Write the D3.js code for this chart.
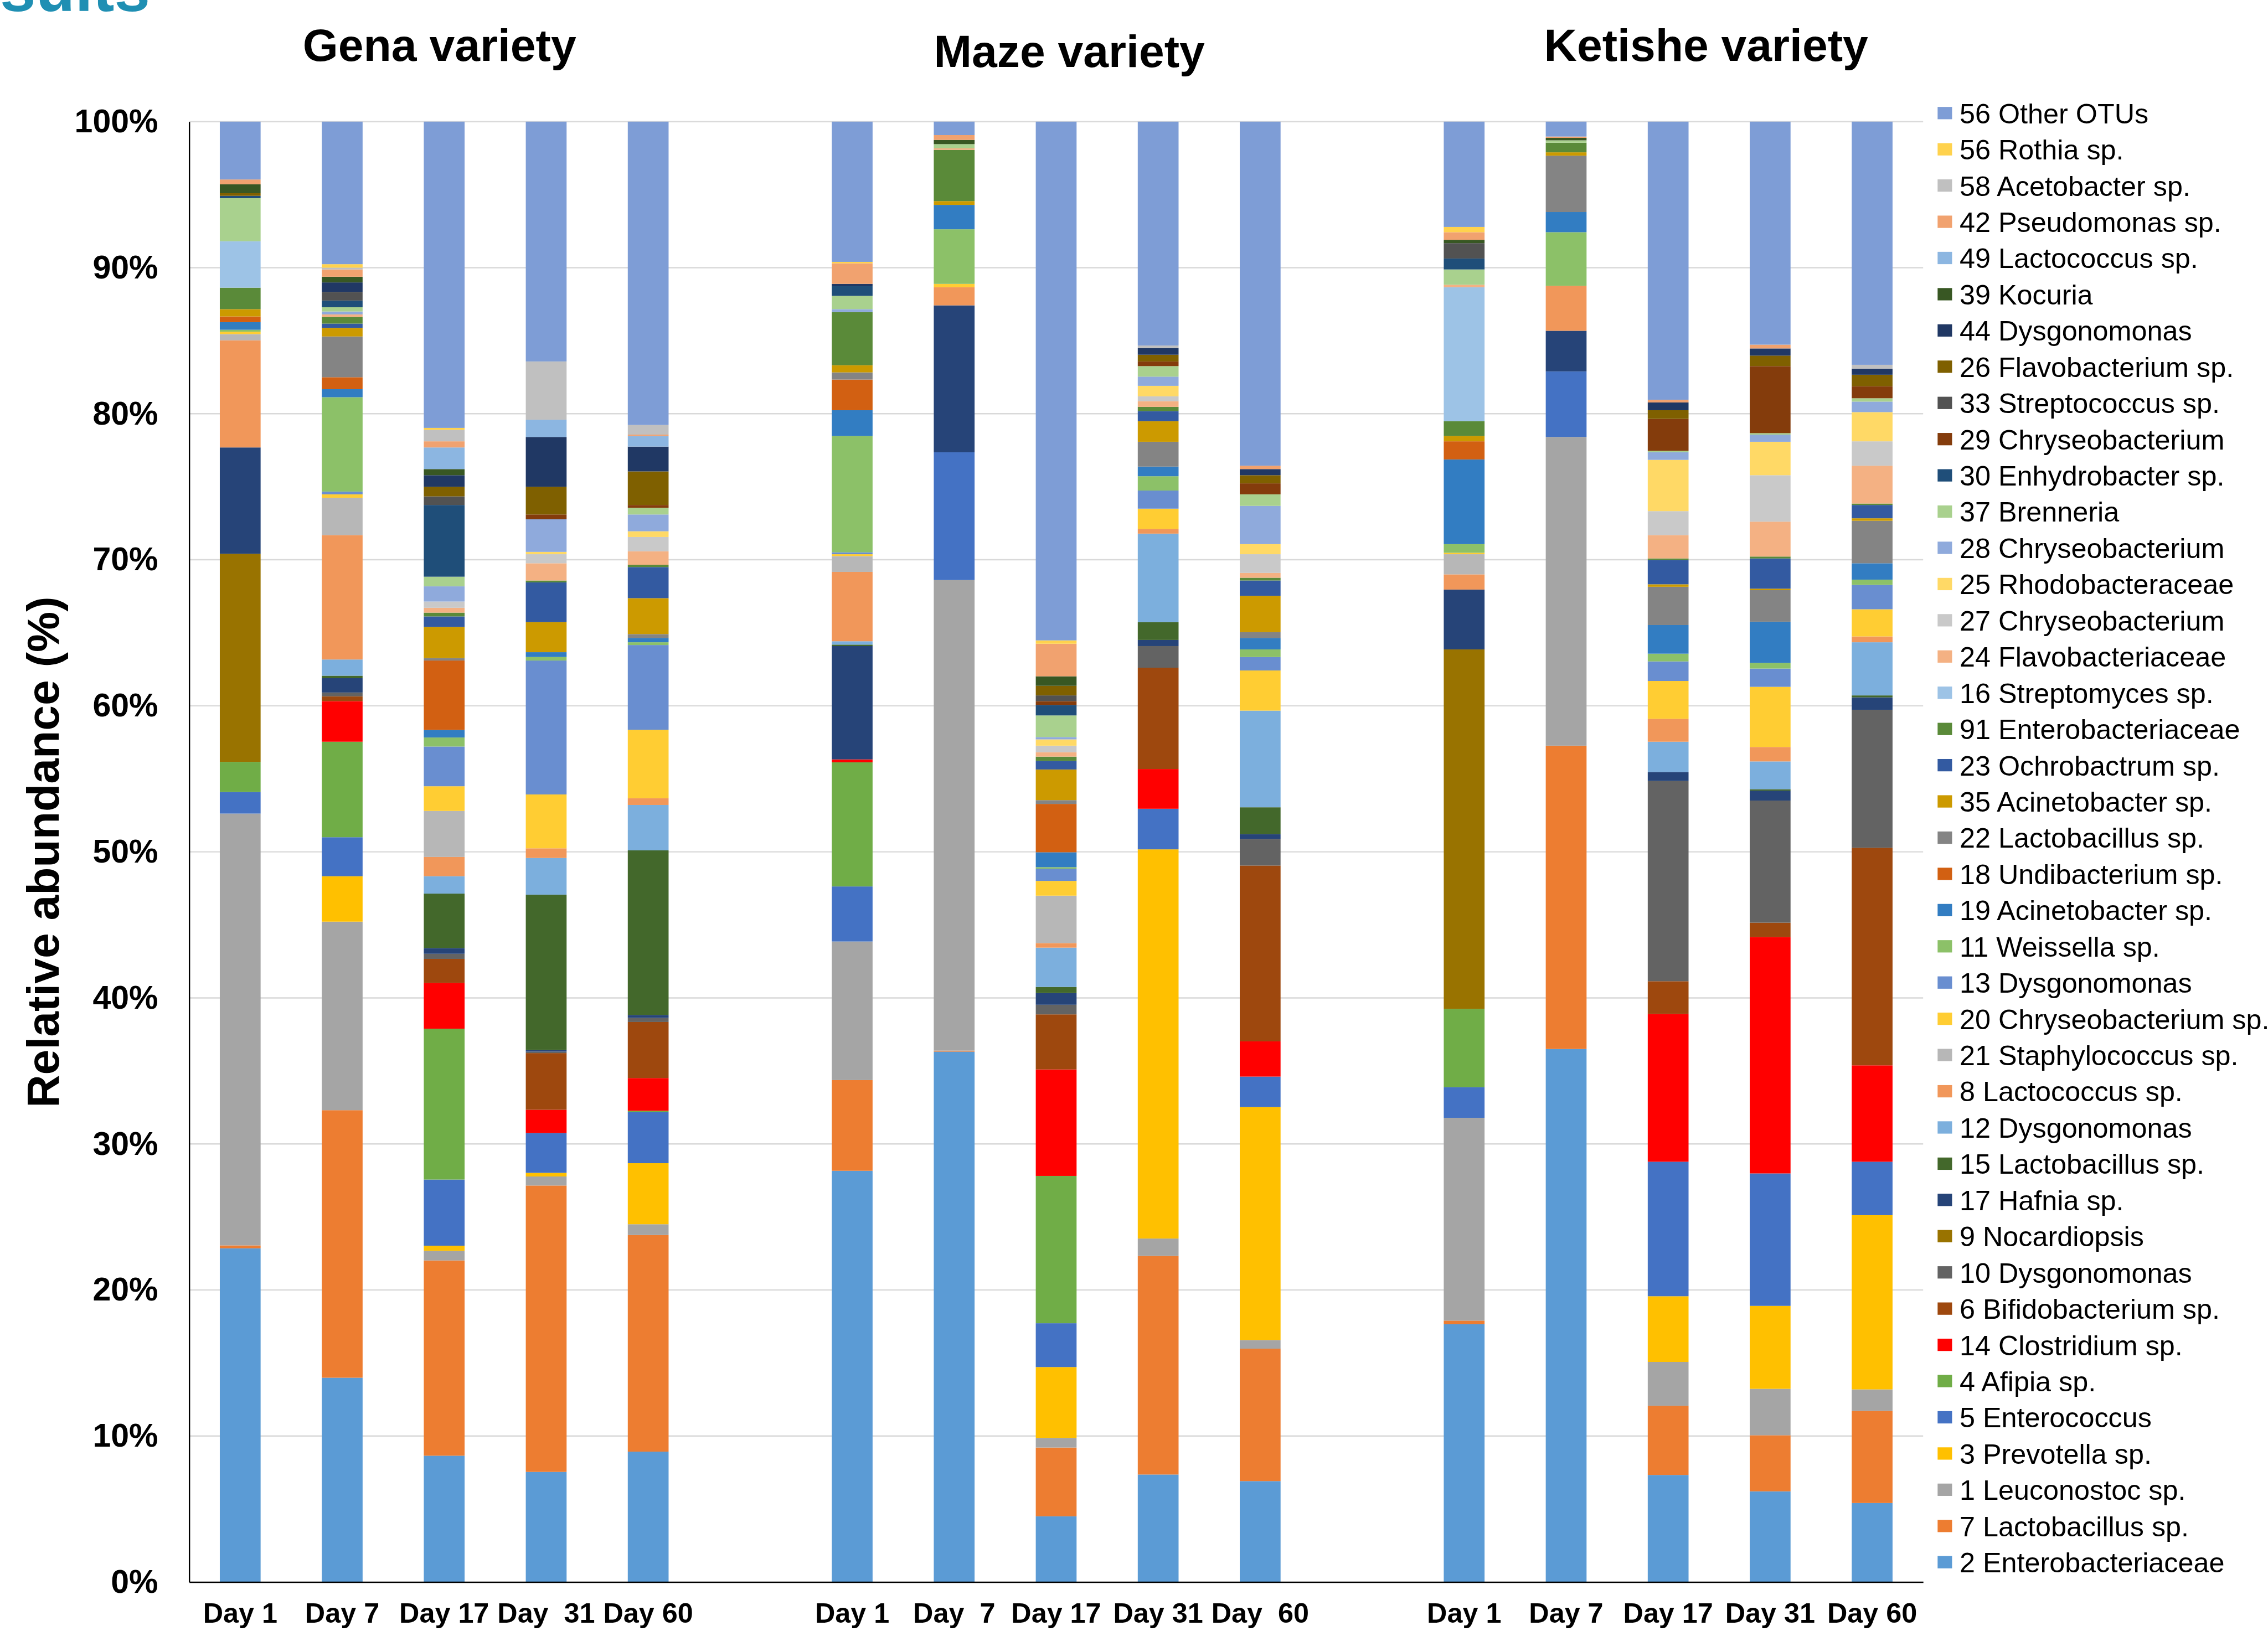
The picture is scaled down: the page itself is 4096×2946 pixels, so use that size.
<!DOCTYPE html>
<html><head><meta charset="utf-8">
<script src="https://cdn.jsdelivr.net/npm/d3@7"></script>
<style>html,body{margin:0;padding:0;background:#fff;overflow:hidden}</style>
</head><body>
<script>
// ---------- DATA ----------
const varieties = ["Gena variety", "Maze variety", "Ketishe variety"];
const dayLabels = ["Day 1","Day 7","Day 17","Day  31","Day 60",
                   "Day 1","Day  7","Day 17","Day 31","Day  60",
                   "Day 1","Day 7","Day 17","Day 31","Day 60"];
const yTicks = [0,10,20,30,40,50,60,70,80,90,100];

// series (bottom -> top). Order of bars: Gena D1,D7,D17,D31,D60, Maze D1..D60, Ketishe D1..D60
const enterobacteriaceae2 = [22.85,13.99,8.65,7.54,8.93, 28.16,36.32,4.5,7.36,6.91, 17.65,36.5,7.33,6.21,5.41];
const lactobacillus7      = [0.2,18.32,13.37,19.61,14.83, 6.21,0.07,4.71,14.97,9.07, 0.25,20.77,4.74,3.84,6.31];
const leuconostoc1        = [29.57,12.91,0.66,0.62,0.74, 9.49,32.22,0.66,1.19,0.59, 13.89,21.14,3.0,3.18,1.47];
const prevotella3         = [0,3.11,0.35,0.25,4.18, 0,0,4.85,26.65,15.95, 0,0,4.5,5.68,11.93];
const enterococcus5       = [1.48,2.67,4.53,2.72,3.49, 3.77,8.75,3.0,2.78,2.09, 2.09,4.49,9.21,9.07,3.66];
const afipia4             = [2.06,6.54,10.33,0,0.1, 8.5,0,10.09,0,0, 5.37,0,0,0,0];
const clostridium14       = [0,2.78,3.14,1.6,2.24, 0.2,0,7.29,2.72,2.41, 0,0,10.12,16.19,6.6];
const bifidobacterium6    = [0,0.33,1.64,3.88,3.84, 0,0,3.77,6.94,12.04, 0,0,2.24,0.98,14.9];
const dysgonomonas10      = [0,0.26,0.35,0.1,0.28, 0,0,0.66,1.48,1.82, 0,0,13.71,8.36,9.45];
const nocardiopsis9       = [14.25,0,0,0,0, 0,0,0,0,0, 24.61,0,0,0,0];
const hafnia17            = [7.28,0.98,0.39,0.11,0.2, 7.76,10.06,0.8,0.42,0.33, 4.1,2.78,0.62,0.68,0.85];
const lactobacillus15     = [0,0.17,3.73,10.64,11.27, 0.1,0,0.42,1.22,1.84, 0,0,0,0.1,0.13];
const dysgonomonas12      = [0,1.11,1.19,2.51,3.11, 0.23,0,2.69,6.06,6.62, 0,0,2.07,1.9,3.64];
const lactococcus8        = [7.34,8.52,1.32,0.66,0.46, 4.75,1.24,0.31,0.33,0, 1.04,3.08,1.57,0.99,0.4];
const staphylococcus21    = [0.42,2.56,3.15,0,0, 1.08,0,3.25,0,0, 1.38,0,0,0,0];
const chryseobacterium20  = [0.17,0.23,1.69,3.69,4.69, 0.13,0.23,1.01,1.38,2.75, 0.1,0,2.59,4.12,1.86];
const dysgonomonas13      = [0,0.19,2.72,9.17,5.8, 0.13,0,0.84,1.24,0.92, 0,0,1.34,1.25,1.67];
const weissella11         = [0.13,6.46,0.62,0.24,0.19, 7.96,3.74,0.1,0.98,0.52, 0.59,3.67,0.53,0.39,0.36];
const acinetobacter19     = [0.52,0.55,0.52,0.33,0.3, 1.77,1.67,1.02,0.66,0.79, 5.8,1.38,1.96,2.82,1.12];
const undibacterium18     = [0.39,0.82,4.75,0,0, 2.1,0,3.31,0,0, 1.24,0,0,0,0];
const lactobacillus22     = [0,2.79,0.17,0,0.26, 0.49,0,0.26,1.7,0.39, 0,3.86,2.62,2.16,2.91];
const acinetobacter35     = [0.5,0.59,2.13,2.06,2.46, 0.49,0.26,2.1,1.41,2.49, 0.36,0.23,0.17,0.1,0.17];
const ochrobactrum23      = [0,0.29,0.72,2.72,2.13, 0,0,0.59,0.69,1.05, 0,0,1.67,2.07,0.91];
const enterobacteriaceae91= [1.47,0.46,0.26,0.13,0.16, 3.64,3.51,0.29,0.29,0.19, 1.02,0.66,0.1,0.13,0.1];
const streptomyces16      = [3.18,0,0,0,0, 0,0,0,0,0, 9.17,0,0,0,0];
const flavobacteriaceae24 = [0,0.17,0.33,1.18,0.92, 0,0.1,0.3,0.39,0.33, 0.17,0,1.6,2.39,2.59];
const chryseobacterium27  = [0,0,0.43,0.62,0.98, 0,0,0.45,0.33,1.28, 0,0,1.64,3.18,1.67];
const rhodobacteraceae25  = [0,0,0,0.16,0.39, 0,0,0.43,0.72,0.69, 0,0,3.51,2.29,2.0];
const chryseobacterium28  = [0,0.2,1.04,2.23,1.15, 0.2,0,0.16,0.63,2.62, 0,0,0.52,0.49,0.72];
const brenneria37         = [2.95,0.29,0.66,0,0.46, 0.91,0.29,1.48,0.72,0.79, 1.05,0.16,0.1,0.1,0.23];
const enhydrobacter30     = [0.16,0.46,4.91,0,0, 0.66,0,0.72,0,0, 0.75,0,0,0,0];
const chryseobacterium29  = [0,0,0,0.33,0.19, 0,0,0.26,0.32,0.75, 0,0,2.19,4.59,0.82];
const streptococcus33     = [0,0.59,0.59,0,0, 0,0,0.39,0,0, 1.05,0,0,0,0];
const flavobacterium26    = [0.18,0,0.66,1.9,2.3, 0,0,0.66,0.46,0.56, 0,0,0.59,0.72,0.79];
const dysgonomonas44      = [0,0.65,0.79,3.41,1.7, 0.16,0,0,0.46,0.42, 0,0,0.53,0.49,0.42];
const kocuria39           = [0.61,0.39,0.42,0,0, 0,0.29,0.65,0,0, 0.23,0.17,0,0,0];
const lactococcus49       = [0,0,1.48,1.18,0.72, 0,0,0,0,0, 0,0,0,0,0];
const pseudomonas42       = [0.33,0.5,0.42,0,0.1, 1.41,0.33,2.23,0,0.23, 0.52,0.09,0.19,0.26,0];
const acetobacter58       = [0,0.12,0.79,3.99,0.66, 0,0,0,0.17,0, 0,0,0,0,0.26];
const rothia56            = [0,0.24,0.13,0,0, 0.1,0,0.23,0,0, 0.36,0,0,0,0];
const otherOTUs56         = [3.96,9.76,20.97,16.42,20.77, 9.6,0.92,35.52,15.33,23.56, 7.21,1.02,19.04,15.27,16.65];

const seriesNames = ["2 Enterobacteriaceae","7 Lactobacillus sp.","1 Leuconostoc sp.","3 Prevotella sp.",
  "5 Enterococcus","4 Afipia sp.","14 Clostridium sp.","6 Bifidobacterium sp.","10 Dysgonomonas",
  "9 Nocardiopsis","17 Hafnia sp.","15 Lactobacillus sp.","12 Dysgonomonas","8 Lactococcus sp.",
  "21 Staphylococcus sp.","20 Chryseobacterium sp.","13 Dysgonomonas","11 Weissella sp.",
  "19 Acinetobacter sp.","18 Undibacterium sp.","22 Lactobacillus sp.","35 Acinetobacter sp.",
  "23 Ochrobactrum sp.","91 Enterobacteriaceae","16 Streptomyces sp.","24 Flavobacteriaceae",
  "27 Chryseobacterium","25 Rhodobacteraceae","28 Chryseobacterium","37 Brenneria",
  "30 Enhydrobacter sp.","29 Chryseobacterium","33 Streptococcus sp.","26 Flavobacterium sp.",
  "44 Dysgonomonas","39 Kocuria","49 Lactococcus sp.","42 Pseudomonas sp.","58 Acetobacter sp.",
  "56 Rothia sp.","56 Other OTUs"];
const seriesValues = [enterobacteriaceae2,lactobacillus7,leuconostoc1,prevotella3,enterococcus5,afipia4,
  clostridium14,bifidobacterium6,dysgonomonas10,nocardiopsis9,hafnia17,lactobacillus15,dysgonomonas12,
  lactococcus8,staphylococcus21,chryseobacterium20,dysgonomonas13,weissella11,acinetobacter19,
  undibacterium18,lactobacillus22,acinetobacter35,ochrobactrum23,enterobacteriaceae91,streptomyces16,
  flavobacteriaceae24,chryseobacterium27,rhodobacteraceae25,chryseobacterium28,brenneria37,
  enhydrobacter30,chryseobacterium29,streptococcus33,flavobacterium26,dysgonomonas44,kocuria39,
  lactococcus49,pseudomonas42,acetobacter58,rothia56,otherOTUs56];
const seriesColors = ["#5B9BD5","#ED7D31","#A5A5A5","#FFC000","#4472C4","#70AD47","#FF0000","#9E480E",
  "#636363","#997300","#264478","#43682B","#7CAFDD","#F1975A","#B7B7B7","#FFCD33","#698ED0","#8CC168",
  "#327DC2","#D26012","#848484","#CC9A00","#335AA1","#5A8A39","#9DC3E6","#F4B183","#C9C9C9","#FFD966",
  "#8FAADC","#A9D18E","#1F4E79","#843C0C","#525252","#7F6000","#203864","#385723","#8CB6E1","#F1A26F",
  "#C0C0C0","#FFD24D","#7E9DD6"];

// ---------- CHART ----------
const FONT = "'Liberation Sans', Arial, Helvetica, sans-serif";
const svg = d3.select("body").append("svg").attr("width",4096).attr("height",2946)
  .style("font-family",FONT);
const g = svg.append("g").attr("transform","scale(0.968)");

// 17 slots: 5 bars, gap, 5 bars, gap, 5 bars
const slots = [];
dayLabels.forEach((d,i)=>{ slots.push("b"+i); if(i===4||i===9) slots.push("gap"+i); });
const barIds = dayLabels.map((d,i)=>"b"+i);
const labelOf = {}; barIds.forEach((id,i)=>labelOf[id]=dayLabels[i]);

const x = d3.scaleBand().domain(slots).range([353,3588]).paddingInner(0.6).paddingOuter(0.3);
const y = d3.scaleLinear().domain([0,100]).range([2952,227]);

// gridlines
g.append("g").selectAll("line").data(yTicks.filter(t=>t>0)).join("line")
  .attr("x1",353).attr("x2",3588).attr("y1",d=>y(d)).attr("y2",d=>y(d))
  .attr("stroke","#d9d9d9").attr("stroke-width",2.5);

// stacked data
const keys = seriesNames.map((n,i)=>"s"+i);
const rows = barIds.map((id,bi)=>{ const r={id}; seriesValues.forEach((arr,si)=>r["s"+si]=arr[bi]); return r; });
const stacked = d3.stack().keys(keys)(rows);

g.append("g").selectAll("g").data(stacked).join("g")
  .attr("fill",(d,i)=>seriesColors[i])
  .selectAll("rect").data(d=>d).join("rect")
  .attr("x",d=>x(d.data.id)).attr("width",x.bandwidth())
  .attr("y",d=>y(Math.min(100,d[1]))).attr("height",d=>Math.max(0,y(d[0])-y(Math.min(100,d[1]))));

// axes
const yAxis = g.append("g").attr("transform","translate(353,0)")
  .call(d3.axisLeft(y).tickValues(yTicks).tickFormat(d=>d+"%").tickSize(0).tickSizeOuter(0).tickPadding(58));
yAxis.select(".domain").attr("stroke","#000").attr("stroke-width",2.5);
yAxis.selectAll("text").attr("font-size",61).attr("font-weight","bold").attr("fill","#000").attr("font-family",FONT);

const xAxis = g.append("g").attr("transform","translate(0,2952)")
  .call(d3.axisBottom(x).tickFormat(d=>labelOf[d]||"").tickSize(0).tickSizeOuter(0).tickPadding(39));
xAxis.select(".domain").attr("stroke","#000").attr("stroke-width",2.5);
xAxis.selectAll("text").attr("font-size",52).attr("font-weight","bold").attr("fill","#000")
  .attr("font-family",FONT).style("white-space","pre");

// y axis title
g.append("text").attr("transform","translate(110,1590) rotate(-90)")
  .attr("text-anchor","middle").attr("font-size",85).attr("font-weight","bold").text("Relative abundance (%)");

// variety titles
const titlePos = [[820,114],[1995,125],[3183,114]];
g.append("g").selectAll("text").data(varieties).join("text")
  .attr("x",(d,i)=>titlePos[i][0]).attr("y",(d,i)=>titlePos[i][1])
  .attr("text-anchor","middle").attr("font-size",85).attr("font-weight","bold").text(d=>d);

// clipped heading at top-left
g.append("text").attr("x",280).attr("y",21).attr("text-anchor","end")
  .attr("font-size",120).attr("font-weight","bold").attr("fill","#1F8FB3").text("Results");

// legend (top -> bottom is reverse stacking order)
const legendItems = seriesNames.map((n,i)=>({name:n,color:seriesColors[i]})).reverse();
const lg = g.append("g").selectAll("g").data(legendItems).join("g")
  .attr("transform",(d,i)=>`translate(3615,${211+i*67.6})`);
lg.append("rect").attr("x",0).attr("y",-11.5).attr("width",27).attr("height",23).attr("fill",d=>d.color);
lg.append("text").attr("x",41).attr("y",19).attr("font-size",52).attr("fill","#000").text(d=>d.name);
</script>
</body></html>
